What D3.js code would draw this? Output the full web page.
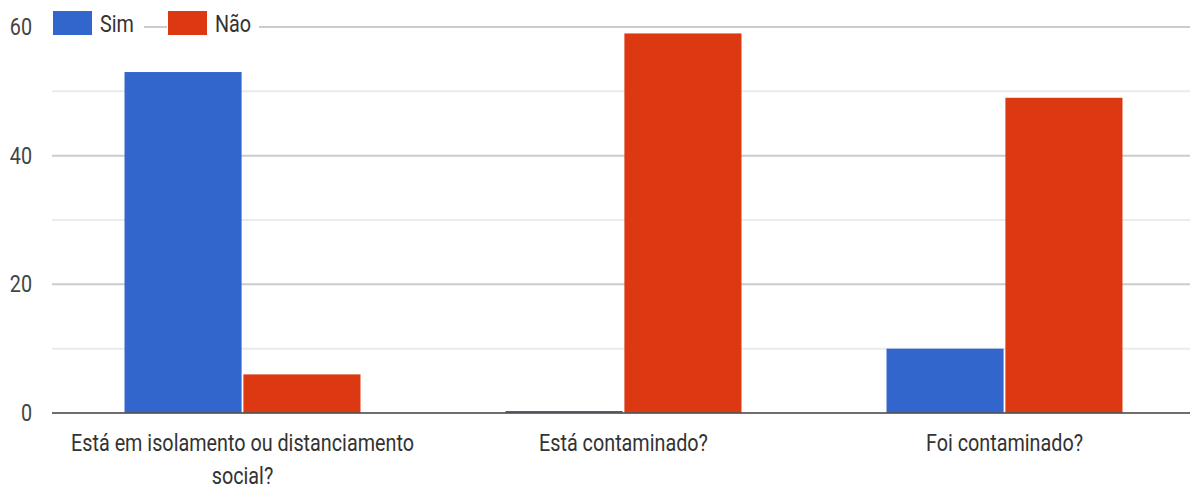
<!DOCTYPE html>
<html>
<head>
<meta charset="utf-8">
<script src="https://cdn.jsdelivr.net/npm/d3@7"></script>
<style>
  body { margin: 0; background: #fff; }
  svg { display: block; font-family: Roboto, Arial, sans-serif; }
</style>
</head>
<body>
<svg id="chart" width="1190" height="490"></svg>
<script>
const categories = [
  ["Está em isolamento ou distanciamento", "social?"],
  ["Está contaminado?"],
  ["Foi contaminado?"]
];
const seriesNames = ["Sim", "Não"];
const simValues = [53, 0, 10];
const naoValues = [6, 59, 49];
const yTicks = [0, 20, 40, 60];
const yMinor = [10, 30, 50];

const colors = ["#3366cc", "#dc3912"];
const squeeze = 0.86;

const svg = d3.select("#chart");

const plotLeft = 52, plotRight = 1195, plotTop = 27, plotBottom = 413;

const x = d3.scaleBand()
  .domain(d3.range(categories.length))
  .range([plotLeft, plotRight]);

const xInner = d3.scaleBand()
  .domain(seriesNames)
  .range([0, x.bandwidth()])
  .paddingOuter(0.61)
  .paddingInner(0.015);

const y = d3.scaleLinear([0, 60], [plotBottom, plotTop]);

// condensed text helper
function label(g, str, tx, ty, size, anchor, fill) {
  g.append("text")
    .attr("transform", `translate(${tx},${ty}) scale(${squeeze},1)`)
    .attr("text-anchor", anchor)
    .attr("font-size", size)
    .attr("fill", fill)
    .text(str);
}

// gridlines
svg.selectAll(".minor")
  .data(yMinor)
  .enter()
  .append("line")
  .attr("x1", plotLeft).attr("x2", 1190)
  .attr("y1", d => y(d)).attr("y2", d => y(d))
  .attr("stroke", "#ebebeb")
  .attr("stroke-width", 2);

svg.selectAll(".major")
  .data(yTicks.filter(d => d > 0))
  .enter()
  .append("line")
  .attr("x1", plotLeft).attr("x2", 1190)
  .attr("y1", d => y(d)).attr("y2", d => y(d))
  .attr("stroke", "#cccccc")
  .attr("stroke-width", 2);

// y tick labels
const yLab = svg.append("g");
yTicks.forEach(t => label(yLab, String(t), 32, y(t) + 8, 23, "end", "#444"));

// bars
const rows = categories.map((c, i) => [simValues[i], naoValues[i]]);
rows.forEach((vals, i) => {
  vals.forEach((v, j) => {
    const bx = x(i) + xInner(seriesNames[j]);
    if (v === 0) {
      svg.append("rect")
        .attr("x", bx).attr("y", plotBottom - 2)
        .attr("width", xInner.bandwidth()).attr("height", 2)
        .attr("fill", "#4a5f8f");
    } else {
      svg.append("rect")
        .attr("x", bx).attr("y", y(v))
        .attr("width", xInner.bandwidth())
        .attr("height", plotBottom - y(v))
        .attr("fill", colors[j]);
    }
  });
});

// baseline
svg.append("line")
  .attr("x1", plotLeft).attr("x2", 1190)
  .attr("y1", plotBottom).attr("y2", plotBottom)
  .attr("stroke", "#555")
  .attr("stroke-width", 2)
  .attr("opacity", 0.85);

// x labels
const xLab = svg.append("g");
categories.forEach((lines, i) => {
  const cx = x(i) + x.bandwidth() / 2;
  lines.forEach((ln, k) => {
    label(xLab, ln, cx, 451 + k * 33, 23, "middle", "#333");
  });
});

// legend
const legendX = [53, 168];
const leg = svg.append("g");
seriesNames.forEach((s, j) => {
  leg.append("rect")
    .attr("x", legendX[j] - 1).attr("y", 8)
    .attr("width", 92).attr("height", 30)
    .attr("fill", "#fff");
  leg.append("rect")
    .attr("x", legendX[j]).attr("y", 11)
    .attr("width", 39).attr("height", 24)
    .attr("fill", colors[j]);
  label(leg, s, legendX[j] + 47, 32, 23, "start", "#333");
});
</script>
</body>
</html>
